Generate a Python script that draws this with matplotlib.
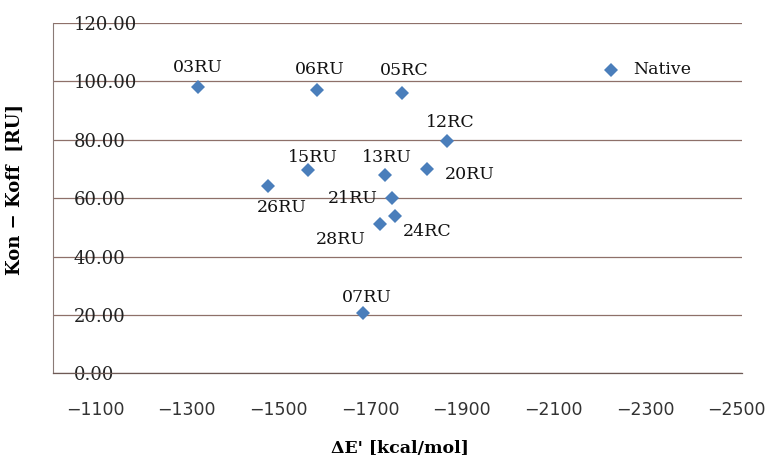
import matplotlib.pyplot as plt
from matplotlib.ticker import FormatStrFormatter

# values
names = ['03RU', '06RU', '05RC', '12RC', '15RU', '13RU', '20RU',
         '26RU', '21RU', '24RC', '28RU', '07RU', 'Native']
delta_e = [-1325, -1585, -1770, -1868, -1565, -1732, -1824,
           -1477, -1748, -1754, -1722, -1685, -2225]
kon_koff = [98.0, 97.0, 96.0, 79.5, 69.5, 68.0, 70.0,
            64.0, 60.0, 54.0, 51.0, 20.5, 104.0]

x_ticks = [-1100, -1300, -1500, -1700, -1900, -2100, -2300, -2500]
y_ticks = [0, 20, 40, 60, 80, 100, 120]

# label placement (pixel offsets from the marker), like Excel data labels
label_offsets = [(0, 20), (2, 21), (2, 23), (3, 19), (5, 13), (2, 17), (43, -6),
                 (14, -21), (-39, 0), (32, -16), (-40, -15), (4, 16), (22, 0)]
label_ha = ['center'] * 12 + ['left']

serif = 'DejaVu Serif'
marker_col = '#4A7EBB'
grid_col = '#8E7069'


def scatterChart():
    """ Kon-Koff vs dE' scatter with data labels, saved as out.png """
    fig = plt.figure(figsize=(7.68, 4.63), dpi=100)
    ax = fig.add_axes([0.069, 0.194, 0.897, 0.756])

    ax.plot(delta_e, kon_koff, linestyle='none', marker='D', ms=7,
            mew=0, color=marker_col, zorder=3)

    for name, x, y, off, ha in zip(names, delta_e, kon_koff, label_offsets, label_ha):
        ax.annotate(name, (x, y), xytext=off, textcoords='offset pixels',
                    ha=ha, va='center', fontsize=12.5, family=serif, color='#111111')

    # x axis reversed, edges a bit outside the labelled range
    ax.set_xlim(-1008, -2511)
    ax.set_ylim(0, 120)
    ax.set_xticks(x_ticks)
    ax.set_yticks(y_ticks)
    ax.yaxis.set_major_formatter(FormatStrFormatter('%.2f'))

    ax.grid(axis='y', color=grid_col, linewidth=0.9)
    ax.set_axisbelow(True)
    for s in ['top', 'right']:
        ax.spines[s].set_visible(False)
    ax.spines['left'].set_color('#8A7A76')
    ax.spines['bottom'].set_color('#6E5A55')
    ax.spines['left'].set_linewidth(0.8)
    ax.spines['bottom'].set_linewidth(0.9)

    # y tick labels sit inside the plot area, over the gridlines
    ax.tick_params(axis='y', length=0, pad=-15, labelsize=13, labelcolor='#222222')
    for lab in ax.get_yticklabels():
        lab.set_horizontalalignment('left')
        lab.set_family(serif)
    ax.tick_params(axis='x', length=0, pad=20, labelsize=12.5, labelcolor='#333333')
    ax.set_xticklabels([str(t).replace('-', '\u2212') for t in x_ticks])

    ax.set_ylabel('Kon \u2212 Koff  [RU]', fontsize=13, fontweight='bold', family=serif)
    ax.yaxis.set_label_coords(-0.042, 0.526)
    ax.set_xlabel("\u0394E' [kcal/mol]", fontsize=12.5, fontweight='bold', family=serif)
    ax.xaxis.set_label_coords(0.504, -0.19)

    plt.savefig('out.png', dpi=100)


if __name__ == '__main__':
    scatterChart()
